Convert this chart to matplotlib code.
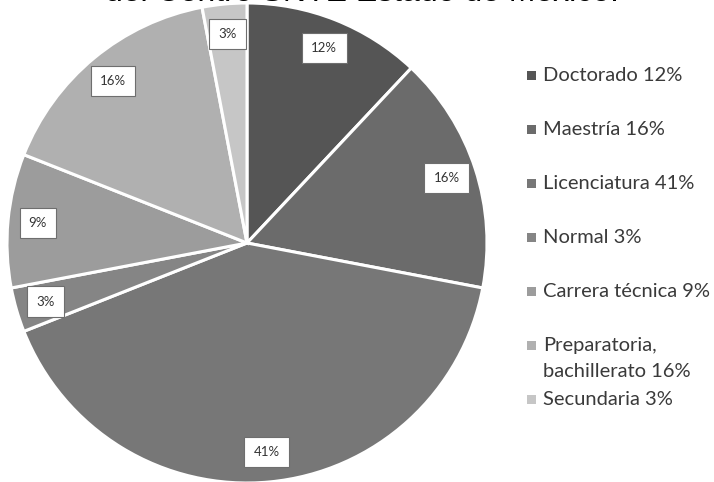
import matplotlib
matplotlib.use("Agg")
import matplotlib.pyplot as plt
from matplotlib.patches import Rectangle

categories = ["Doctorado", "Maestría", "Licenciatura", "Normal",
              "Carrera técnica", "Preparatoria,\nbachillerato", "Secundaria"]
values = [12, 16, 41, 3, 9, 16, 3]
colors = ["#555555", "#6b6b6b", "#777777", "#858585",
          "#9c9c9c", "#b0b0b0", "#c6c6c6"]
title = "del Centro SNTE Estado de México."

W, H = 714, 482
fig = plt.figure(figsize=(W / 100, H / 100), dpi=100)
fig.patch.set_facecolor("white")

# pie axes: center (247, 243 from top), radius 240 px
cx, cy, r = 247, H - 243, 240
ax = fig.add_axes([(cx - r) / W, (cy - r) / H, 2 * r / W, 2 * r / H])
wedges, texts, autotexts = ax.pie(
    values, colors=colors, startangle=90, counterclock=False,
    autopct=lambda p: f"{p:.0f}%", pctdistance=0.875,
    wedgeprops=dict(edgecolor="white", linewidth=2.2),
    textprops=dict(fontsize=9.5, color="#333333", family="Lato"))
for t in autotexts:
    t.set_bbox(dict(boxstyle="square,pad=0.7", facecolor="white",
                    edgecolor="#6e6e6e", linewidth=0.8))
ax.set_xlim(-1, 1)
ax.set_ylim(-1, 1)
ax.set_aspect("equal")
ax.axis("off")

# title (cut off at top in the reference)
fig.text(0.507, 1 - 1 / H, title, ha="center", va="baseline",
         fontsize=23, family="Liberation Sans", color="#000000")

# legend drawn manually (Excel-like fixed pitch)
y0 = 75
pitch = 54
line_h = 26
for i, (lab, col, v) in enumerate(zip(categories, colors, values)):
    yc = y0 + i * pitch
    fig.patches.append(Rectangle((527 / W, (H - yc - 5) / H), 9 / W, 9 / H,
                                 transform=fig.transFigure, facecolor=col,
                                 edgecolor="none"))
    lines = f"{lab} {v}%".split("\n")
    for j, ln in enumerate(lines):
        fig.text(543 / W, (H - yc - 6 - j * line_h) / H, ln, ha="left",
                 va="baseline", fontsize=14.5, family="Lato",
                 color="#3a3a3a")

fig.savefig("out.png", dpi=100, facecolor="white")
